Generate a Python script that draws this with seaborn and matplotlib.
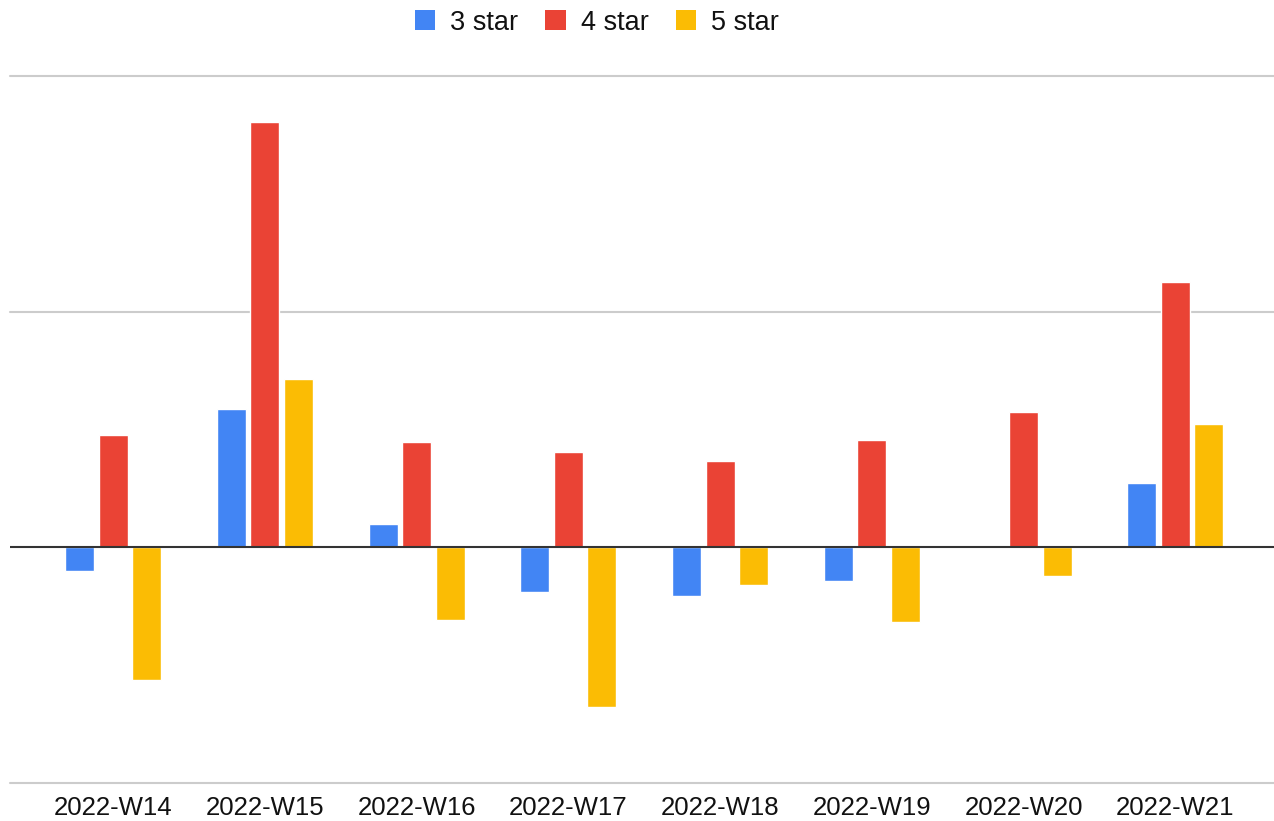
import pandas as pd
import seaborn as sns
import matplotlib.pyplot as plt
from matplotlib.patches import Patch

# Weekly change by star rating (units = one gridline step)
weeks = ['2022-W14', '2022-W15', '2022-W16', '2022-W17',
         '2022-W18', '2022-W19', '2022-W20', '2022-W21']
star3 = [-0.10, 0.586, 0.098, -0.191, -0.208, -0.144, 0.004, 0.272]
star4 = [0.476, 1.805, 0.446, 0.403, 0.365, 0.454, 0.573, 1.125]
star5 = [-0.565, 0.713, -0.31, -0.679, -0.161, -0.318, -0.123, 0.522]
series = ['3 star', '4 star', '5 star']
colors = ['#4285F4', '#EA4335', '#FBBC04']

df = pd.DataFrame({
    'week': weeks * 3,
    'value': star3 + star4 + star5,
    'series': [series[0]] * 8 + [series[1]] * 8 + [series[2]] * 8,
})

sns.set_style('white')
plt.rcParams['font.family'] = ['Liberation Sans', 'DejaVu Sans']

fig = plt.figure(figsize=(12.74, 8.21), dpi=100)
ax = fig.add_axes([10 / 1274, 1 - 783 / 821, 1 - 10 / 1274, (783 - 76) / 821])

sns.barplot(data=df, x='week', y='value', hue='series', palette=colors,
            width=0.663, gap=0.134, legend=False, ax=ax, saturation=1)

ax.set_ylim(-1, 2)
ax.set_xlim(-0.679, 7.65)
for y in [-1, 1, 2]:
    ax.axhline(y, color='#cccccc', lw=1.5, zorder=0, clip_on=False)
ax.axhline(0, color='#333333', lw=1.5, zorder=3)

for s in ax.spines.values():
    s.set_visible(False)
ax.set_yticks([])
ax.set_xlabel('')
ax.set_ylabel('')
ax.tick_params(axis='x', length=0, pad=9, labelsize=18.5, colors='#111111')

handles = [Patch(facecolor=c, edgecolor='none') for c in colors]
fig.legend(handles, series, loc='upper center', bbox_to_anchor=(597 / 1274, 1.018),
           ncol=3, frameon=False, fontsize=19.5, handlelength=0.76, handleheight=0.76,
           handletextpad=0.55, columnspacing=1.0, labelcolor='#111111')

plt.savefig('out.png', dpi=100)
